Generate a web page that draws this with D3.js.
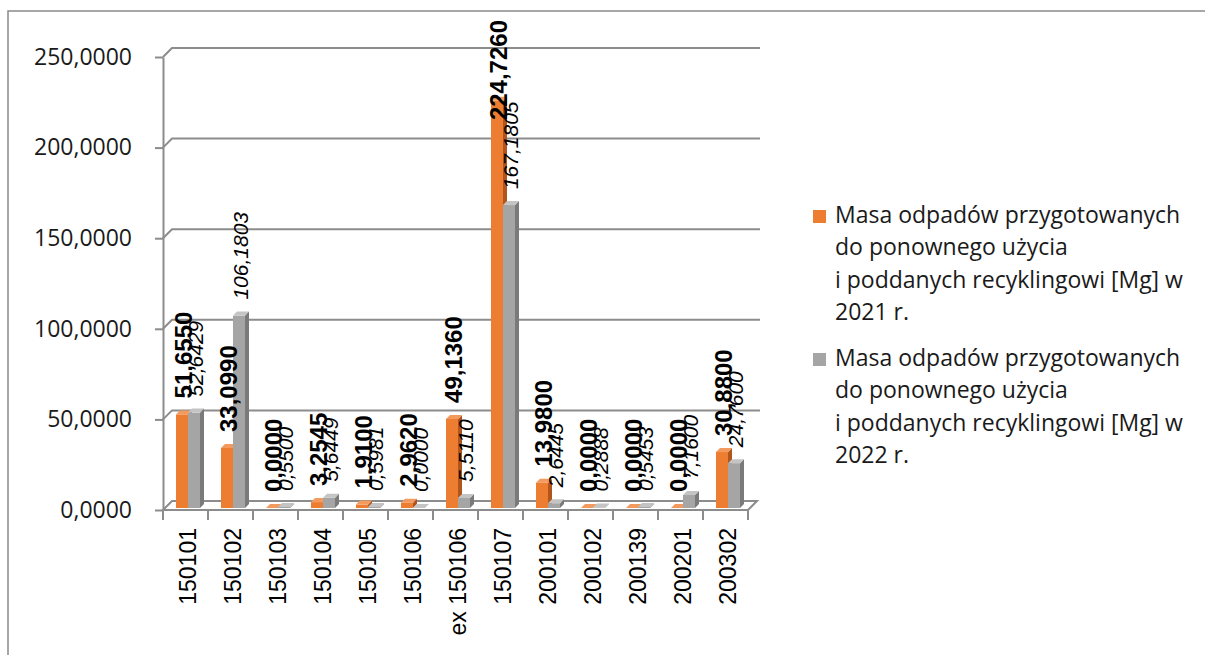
<!DOCTYPE html>
<html><head><meta charset="utf-8">
<script src="https://cdn.jsdelivr.net/npm/d3@7"></script>
<style>body{margin:0;background:#fff}</style></head>
<body><svg id="c" width="1205" height="655"></svg>
<script>
const categories = ["150101","150102","150103","150104","150105","150106","ex 150106","150107","200101","200102","200139","200201","200302"];
const values2021 = [51.655,33.099,0,3.2545,1.91,2.962,49.136,224.726,13.98,0,0,0,30.88];
const values2022 = [52.6429,106.1803,0.55,5.6449,0.5981,0,5.511,167.1805,2.6445,0.2888,0.5453,7.16,24.76];
const legend2021 = ["Masa odpadów przygotowanych","do ponownego użycia","i poddanych recyklingowi [Mg] w","2021 r."];
const legend2022 = ["Masa odpadów przygotowanych","do ponownego użycia","i poddanych recyklingowi [Mg] w","2022 r."];
const yTicks = [0,50,100,150,200,250];

const svg = d3.select("#c");
const W = 1205, H = 655;
svg.append("rect").attr("width", W).attr("height", H).attr("fill", "#fff");
svg.append("path").attr("d", "M8,655V11H1205").attr("fill", "none").attr("stroke", "#8a8a8a").attr("stroke-width", 1.5);

const x0 = 163, x1 = 748, yBase = 510, yTop = 57;
const DX = 9, DY = 9;
const x = d3.scaleBand().domain(categories).range([x0, x1]);
const y = d3.scaleLinear().domain([0, 250]).range([yBase, yTop]);
const fmt = v => d3.format(".4f")(v).replace(".", ",");
const gridColor = "#8c8c8c";

// floor
const grid = svg.append("g");
grid.append("path")
  .attr("d", `M${x0},${yBase}H${x1}l${DX},${-DY}H${x0 + DX}Z`)
  .attr("fill", "#fff").attr("stroke", gridColor).attr("stroke-width", 2);
// back wall gridlines
grid.selectAll("path.gl").data(yTicks.filter(t => t > 0)).join("path")
  .attr("class", "gl")
  .attr("d", t => `M${x0},${y(t)}l${DX},${-DY}H${x1 + DX + 3}`)
  .attr("fill", "none").attr("stroke", gridColor).attr("stroke-width", 2);

// y axis
const yAxis = svg.append("g").attr("transform", `translate(${x0},0)`)
  .call(d3.axisLeft(y).tickValues(yTicks).tickSize(8).tickSizeOuter(0).tickPadding(23).tickFormat(fmt));
yAxis.select(".domain").attr("stroke", gridColor).attr("stroke-width", 2);
yAxis.selectAll(".tick line").attr("stroke", gridColor).attr("stroke-width", 2);
yAxis.selectAll(".tick text").attr("font-family", "Open Sans").attr("font-size", 23).attr("fill", "#1a1a1a");

// x axis ticks
const xt = categories.map(c => x(c)).concat([x1]);
svg.append("g").selectAll("line").data(xt).join("line")
  .attr("x1", d => d).attr("x2", d => d).attr("y1", yBase).attr("y2", yBase + 10)
  .attr("stroke", gridColor).attr("stroke-width", 2);
svg.append("g").selectAll("text").data(categories).join("text")
  .attr("transform", c => `translate(${x(c) + x.bandwidth() / 2 + 2.5},528) rotate(-90)`)
  .attr("text-anchor", "end").attr("dy", "0.35em")
  .attr("font-family", "Liberation Sans").attr("font-size", 23).attr("fill", "#000")
  .text(c => c);

// bars
const series = [
  { vals: values2021, front: "#ED7D31", side: "#B0561C", top: "#F39A5E" },
  { vals: values2022, front: "#A5A5A5", side: "#7A7A7A", top: "#C4C4C4" }
];
const BW = 12, BD = 4, OFF = 13;
const bars = svg.append("g");
function barGeom(si, i) {
  const v = series[si].vals[i];
  const bx = x(categories[i]) + OFF + si * BW;
  const bt = y(v) - 2, bb = yBase - 2;
  return { bx, bt, bb };
}
categories.forEach((c, i) => {
  series.forEach((s, si) => {
    const { bx, bt, bb } = barGeom(si, i);
    const g = bars.append("g");
    g.append("rect").attr("x", bx).attr("y", bt).attr("width", BW).attr("height", Math.max(0, bb - bt)).attr("fill", s.front);
    g.append("path").attr("d", `M${bx + BW},${bt}l${BD},${-BD}V${bb - BD}l${-BD},${BD}Z`).attr("fill", s.side);
    g.append("path").attr("d", `M${bx},${bt}l${BD},${-BD}h${BW}l${-BD},${BD}Z`).attr("fill", s.top);
  });
});

// data labels
const labels = svg.append("g");
const labelCfg = [
  { si: 1, weight: "normal", style: "italic", size: 21, gap: 16 },
  { si: 0, weight: "bold", style: "normal", size: 24, gap: 16 }
];
labelCfg.forEach(cfg => {
  categories.forEach((c, i) => {
    const { bx, bt } = barGeom(cfg.si, i);
    const t = labels.append("text")
      .attr("font-family", "Liberation Sans").attr("font-size", cfg.size)
      .attr("font-weight", cfg.weight).attr("font-style", cfg.style)
      .attr("fill", "#000").attr("text-anchor", "start").attr("dy", "0.35em")
      .text(fmt(series[cfg.si].vals[i]));
    const L = t.node().getComputedTextLength();
    let sy = bt - cfg.gap;
    if (sy - L < 20) sy = 20 + L;
    t.attr("transform", `translate(${bx + BW / 2 + 2},${sy}) rotate(-90)`);
  });
});

// legend
const legend = svg.append("g");
[[legend2021, "#ED7D31", 223], [legend2022, "#A5A5A5", 366]].forEach(([lines, col, by]) => {
  legend.append("rect").attr("x", 813).attr("y", by - 13).attr("width", 13).attr("height", 13).attr("fill", col);
  legend.append("text").attr("font-family", "Open Sans").attr("font-size", 23).attr("fill", "#1a1a1a")
    .selectAll("tspan").data(lines).join("tspan")
    .attr("x", 835).attr("y", (d, k) => by + k * 32.3).text(d => d);
});
</script>
</body></html>
